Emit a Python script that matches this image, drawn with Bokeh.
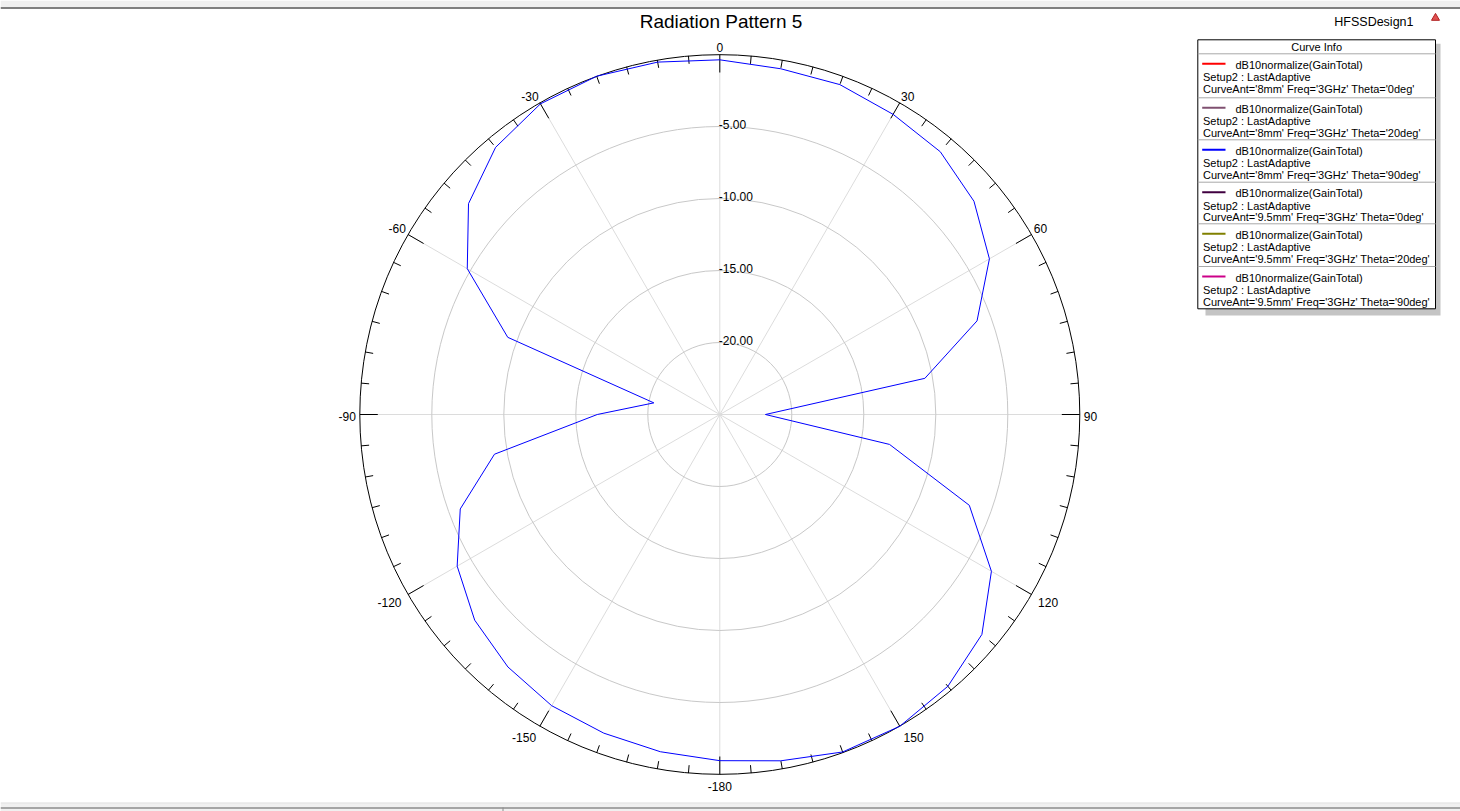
import numpy as np
from bokeh.plotting import figure
from bokeh.models import Range1d
from bokeh.core.properties import value
from bokeh.embed import file_html
from bokeh.resources import INLINE

# ---------------- data ----------------
phi_deg = [-180, -170, -160, -150, -140, -130, -120, -110, -100, -90,
           -80, -70, -60, -50, -40, -30, -20, -10, 0, 10,
           20, 30, 40, 50, 60, 70, 80, 90, 100, 110,
           120, 130, 140, 150, 160, 170, 180]
gain_db = [-0.96, -1.22, -1.45, -1.65, -2.11, -2.78, -3.94, -5.82, -9.11, -16.49,
           -20.35, -9.33, -4.75, -2.22, -0.78, -0.09, 0.00, -0.15, -0.37, -0.62,
           -0.62, -0.93, -1.18, -1.96, -3.38, -5.99, -10.54, -21.83, -13.03, -6.56,
           -3.22, -1.24, -0.36, 0.00, -0.06, -0.58, -0.96]

ring_levels = [-20, -15, -10, -5]
ring_labels = ["-20.00", "-15.00", "-10.00", "-5.00"]
angle_ticks = [0, 30, 60, 90, 120, 150, 180, -150, -120, -90, -60, -30]
angle_labels = ["0", "30", "60", "90", "120", "150", "-180", "-150", "-120", "-90", "-60", "-30"]
r_min, r_max = -25.0, 0.0

title_text = "Radiation Pattern 5"
design_text = "HFSSDesign1"
legend_title = "Curve Info"
legend_colors = ["#ff0000", "#7f5070", "#0000ff", "#400040", "#808000", "#cc0088"]
legend_line1 = ["dB10normalize(GainTotal)"] * 6
legend_line2 = ["Setup2 : LastAdaptive"] * 6
legend_line3 = ["CurveAnt='8mm' Freq='3GHz' Theta='0deg'",
                "CurveAnt='8mm' Freq='3GHz' Theta='20deg'",
                "CurveAnt='8mm' Freq='3GHz' Theta='90deg'",
                "CurveAnt='9.5mm' Freq='3GHz' Theta='0deg'",
                "CurveAnt='9.5mm' Freq='3GHz' Theta='20deg'",
                "CurveAnt='9.5mm' Freq='3GHz' Theta='90deg'"]
curve_color = "#0000ff"

# ---------------- layout ----------------
S = 14.4          # pixels per dB
CX, CY = 719.3, 414.0   # pattern centre in window pixels
W, H = 1460, 811
FONT = value("Liberation Sans")


def X(px):
    return (px - CX) / S


def Y(py):
    return (CY - py) / S


p = figure(width=W, height=H,
           x_range=Range1d(X(0), X(W)), y_range=Range1d(Y(H), Y(0)),
           output_backend="svg", toolbar_location=None,
           x_axis_type=None, y_axis_type=None, min_border=0,
           outline_line_color=None, background_fill_color="white",
           border_fill_color="white")

R = r_max - r_min

# window frame (top and bottom bars)
p.quad(left=[X(0)], right=[X(W)], top=[Y(0)], bottom=[Y(7)], fill_color="#f0f0f0", line_color=None)
p.segment(x0=[X(0)], y0=[Y(7.6)], x1=[X(W)], y1=[Y(7.6)], line_color="#808080", line_width=2)
p.quad(left=[X(0)], right=[X(W)], top=[Y(803)], bottom=[Y(H)], fill_color="#f0f0f0", line_color=None)
p.segment(x0=[X(0)], y0=[Y(802.5)], x1=[X(W)], y1=[Y(802.5)], line_color="#dcdcdc", line_width=1)
p.segment(x0=[X(0)], y0=[Y(807.5)], x1=[X(W)], y1=[Y(807.5)], line_color="#8c8c8c", line_width=1.5)
p.segment(x0=[X(502.5)], y0=[Y(807)], x1=[X(502.5)], y1=[Y(H)], line_color="#8c8c8c", line_width=1)

# spokes
sp = np.radians(np.arange(0, 360, 30))
p.segment(x0=np.zeros(len(sp)), y0=np.zeros(len(sp)), x1=R * np.sin(sp), y1=R * np.cos(sp),
          line_color="#dcdcdc", line_width=1)

# rings
p.circle(x=[0] * len(ring_levels), y=[0] * len(ring_levels),
         radius=[lv - r_min for lv in ring_levels],
         fill_color=None, line_color="#c8c8c8", line_width=1)

# outer circle
p.circle(x=[0], y=[0], radius=[R], fill_color=None, line_color="black", line_width=1)

# ticks
ta = np.arange(0, 360, 5)
tlen = np.where(ta % 30 == 0, 18.0, 8.0) / S
tr = np.radians(ta)
p.segment(x0=R * np.sin(tr), y0=R * np.cos(tr), x1=(R - tlen) * np.sin(tr), y1=(R - tlen) * np.cos(tr),
          line_color="black", line_width=1)

# ring labels
p.text(x=[X(718.3)] * len(ring_levels), y=[lv - r_min + 2.2 / S for lv in ring_levels], text=ring_labels,
       text_font=FONT, text_font_size="12px", text_color="black",
       text_align="left", text_baseline="middle")

# angle labels
for a, lab in zip(angle_ticks, angle_labels):
    t = np.radians(a)
    s, c = np.sin(t), np.cos(t)
    align = "left" if s > 0.1 else ("right" if s < -0.1 else "center")
    if c > 0.1:
        base, rr, dy = "bottom", 362.5, 0.0
    elif c < -0.1:
        base, rr, dy = "top", 367.5, 0.0
    else:
        base, rr, dy = "middle", 364.0, -1.5
    p.text(x=[rr / S * s], y=[rr / S * c + dy / S], text=[lab], text_font=FONT, text_font_size="12px",
           text_color="black", text_align=align, text_baseline=base)

# pattern curve
th = np.radians(np.array(phi_deg, dtype=float))
rr = np.array(gain_db) - r_min
p.line(x=rr * np.sin(th), y=rr * np.cos(th), line_color=curve_color, line_width=1)

# title & design name
p.text(x=[X(720.5)], y=[Y(21.0)], text=[title_text], text_font=FONT, text_font_size="19px",
       text_color="black", text_align="center", text_baseline="middle")
p.text(x=[X(1413)], y=[Y(21.0)], text=[design_text], text_font=FONT, text_font_size="12.5px",
       text_color="black", text_align="right", text_baseline="middle")
p.scatter(x=[X(1435)], y=[Y(17.5)], marker="triangle", size=8,
          fill_color="#e05050", line_color="#b02020", line_width=1)

# legend box
L, Rt, T, B = 1197.3, 1435.0, 39.3, 308.3
p.quad(left=[X(1205)], right=[X(1440)], top=[Y(43.3)], bottom=[Y(315)],
       fill_color="#c4c4c4", line_color=None)
p.quad(left=[X(L)], right=[X(Rt)], top=[Y(T)], bottom=[Y(B)],
       fill_color="white", line_color="black", line_width=1)
p.text(x=[X((L + Rt) / 2)], y=[Y(46.5)], text=[legend_title], text_font=FONT, text_font_size="11px",
       text_color="black", text_align="center", text_baseline="middle")
tops = [53.3, 97.3, 139.3, 181.7, 223.3, 266.0]
n = len(legend_colors)
p.segment(x0=[X(L)] * n, y0=[Y(t) for t in tops], x1=[X(Rt)] * n, y1=[Y(t) for t in tops],
          line_color="#a8a8a8", line_width=1)
p.segment(x0=[X(1201.7)] * n, y0=[Y(t + 10) for t in tops], x1=[X(1225)] * n, y1=[Y(t + 10) for t in tops],
          line_color=legend_colors, line_width=2)
p.text(x=[X(1235)] * n, y=[Y(t + 11) for t in tops], text=legend_line1, text_font=FONT,
       text_font_size="11px", text_color="black", text_align="left", text_baseline="middle")
p.text(x=[X(1202.5)] * n, y=[Y(t + 23.3) for t in tops], text=legend_line2, text_font=FONT,
       text_font_size="11px", text_color="black", text_align="left", text_baseline="middle")
p.text(x=[X(1202.5)] * n, y=[Y(t + 35.2) for t in tops], text=legend_line3, text_font=FONT,
       text_font_size="11px", text_color="black", text_align="left", text_baseline="middle")

open("out.html", "w").write(file_html(p, INLINE))
